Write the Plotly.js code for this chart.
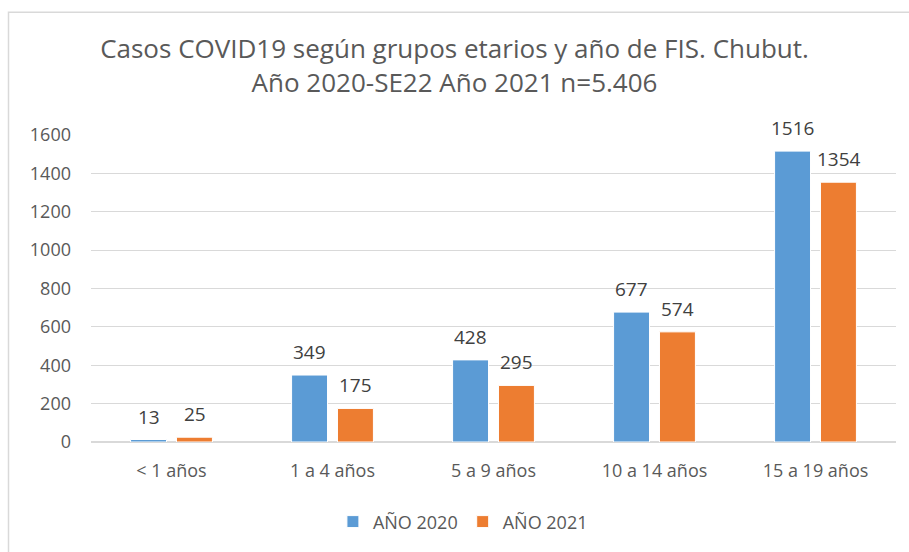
<!DOCTYPE html>
<html><head><meta charset="utf-8">
<script src="https://cdn.plot.ly/plotly-3.0.1.min.js"></script>
<style>html,body{margin:0;padding:0;background:#fff}</style>
</head><body>
<div id="chart" style="width:909px;height:552px"></div>
<script>
const categories = ["< 1 años", "1 a 4 años", "5 a 9 años", "10 a 14 años", "15 a 19 años"];
const values2020 = [13, 349, 428, 677, 1516];
const values2021 = [25, 175, 295, 574, 1354];
const seriesNames = ["AÑO 2020", "AÑO 2021"];
const yTicks = [0, 200, 400, 600, 800, 1000, 1200, 1400, 1600];

const font = "Open Sans, Noto Sans, sans-serif";
const mk = (name, vals, color) => ({
  type: "bar", name: name, x: categories, y: vals,
  marker: {color: color, line: {color: "#ffffff", width: 1}}
});
const data = [mk(seriesNames[0], values2020, "#5B9BD5"), mk(seriesNames[1], values2021, "#ED7D31")];

const annotations = [];
[[values2020, -23], [values2021, 23]].forEach(([vals, dx]) => {
  vals.forEach((v, i) => annotations.push({
    x: categories[i], y: v, xref: "x", yref: "y", text: String(v), showarrow: false,
    xshift: dx, yshift: 8, yanchor: "bottom", xanchor: "center",
    font: {family: font, size: 19, color: "#404040"}
  }));
});

const L = 91, R = 13, T = 135, B = 108;
const pw = 909 - L - R, ph = 552 - T - B;
const layout = {
  width: 909, height: 552,
  margin: {l: L, r: R, t: T, b: B},
  paper_bgcolor: "#fff", plot_bgcolor: "#fff",
  title: {text: "Casos COVID19 según grupos etarios y año de FIS. Chubut.<br>Año 2020-SE22 Año 2021 n=5.406",
    font: {family: font, size: 26, color: "#595959", lineposition: "none"}, x: 0.5, xanchor: "center",
    yref: "container", y: 1 - 58 / 552, yanchor: "middle"},
  barmode: "group", bargap: 0.43, bargroupgap: 0.217,
  xaxis: {tickfont: {family: font, size: 18, color: "#595959"}, showline: false, ticks: "", showgrid: false,
    ticklabelstandoff: 16},
  yaxis: {range: [0, 1600], tickvals: yTicks, ticktext: yTicks.map(String),
    tickfont: {family: font, size: 18, color: "#595959"}, gridcolor: "#D9D9D9", gridwidth: 1,
    zeroline: true, zerolinecolor: "#D9D9D9", zerolinewidth: 2, ticks: "", ticklen: 0, automargin: false,
    ticklabelstandoff: 19},
  showlegend: true,
  legend: {orientation: "h", x: 0.462, xanchor: "center", y: -0.2, yanchor: "top",
    font: {family: font, size: 18, color: "#595959"}, itemwidth: 20, traceorder: "normal"},
  annotations: annotations,
  shapes: [{type: "rect", xref: "paper", yref: "paper",
    x0: (8.5 - L) / pw, x1: (960 - L) / pw, y0: -(600 - T - ph) / ph, y1: 1 + (T - 11.5) / ph,
    line: {color: "#D9D9D9", width: 1.5}, fillcolor: "rgba(0,0,0,0)", layer: "below"}]
};
Plotly.newPlot("chart", data, layout, {displayModeBar: false, staticPlot: true});
</script>
</body></html>
